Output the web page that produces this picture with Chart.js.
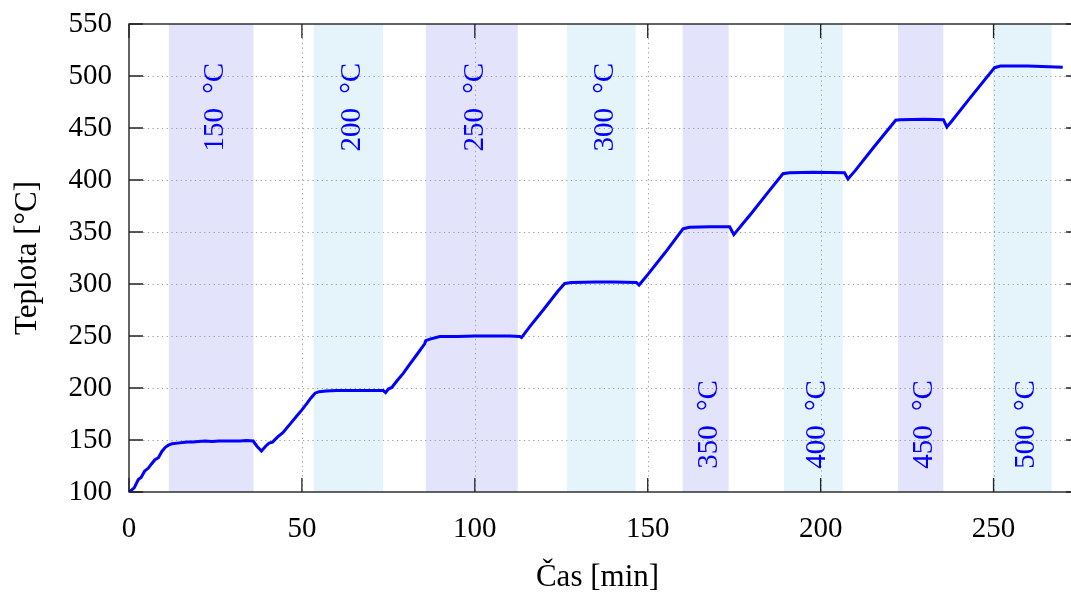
<!DOCTYPE html>
<html><head><meta charset="utf-8">
<script src="https://cdn.jsdelivr.net/npm/chart.js@4"></script>
<style>html,body{margin:0;padding:0;overflow:hidden;background:#fff}</style>
</head><body>
<canvas id="c" width="1085" height="598" style="display:block;width:1085px;height:598px"></canvas>
<script>
// ---- data ----
const timeMin = [0,0.8,1.5,2.7,3.5,4.5,5.6,6.5,7.5,8.5,9.5,10.5,11.4,12.5,14,15.5,17,18.5,20,22,24,26,28,30,32,34,35.9,37,38.3,39.5,40.5,41.5,43,44.5,46.5,48.5,50,51.4,52.5,53.8,55,57,60,63,66,70,73.5,74.2,75,76,77.5,79.3,81,83,85.5,85.8,87,89.9,95,100,105,110,113,113.5,115.9,120,124,126,128,135,140,146.7,147.5,150,155,160.2,162,168,173.7,174.9,177,180,185,189.1,191,198,206.9,207.9,210,215,221.7,223,230,235.5,236.5,238,243,250.3,252,260,270];
const temperature = [100,102,104,112,114,120,123,127,131,133,139,143,145,146.5,147,147.5,148,148,148.5,149,148.5,149,149,149,149,149.5,149,144,139.5,144,147,148,153,157,165,173,179,185,190,195,196.5,197,197.5,197.5,197.5,197.5,197.5,195.5,199,200.5,207,214,222,231,242.5,245.5,247,249.5,249.5,250,250,250,249.5,248.5,259,276,293,300.5,301.5,302,302,301.5,299,309,330,353,354.5,355,355,347.5,356,368,389,406,407,407.5,407,401,409,430,457.5,458,458.5,458,451,457,478,508,509.5,509.5,508.5];
const bandStart = [11.5, 53.4, 85.8, 126.6, 160.1, 189.4, 222.4, 249.8];
const bandEnd   = [36.0, 73.5, 112.4, 146.5, 173.4, 206.4, 235.5, 266.8];
const bandLabels = ['150 °C','200 °C','250 °C','300 °C','350 °C','400 °C','450 °C','500 °C'];
const xTicks = [0, 50, 100, 150, 200, 250];
const yTicks = [100, 150, 200, 250, 300, 350, 400, 450, 500, 550];
const xTitle = 'Čas [min]';
const yTitle = 'Teplota [°C]';

const FONT = "'Liberation Serif', 'Times New Roman', serif";

const decorPlugin = {
  id: 'decor',
  beforeDatasetsDraw(chart) {
    const {ctx, chartArea: a, scales: {x, y}} = chart;
    ctx.save();
    bandStart.forEach((s, i) => {
      const x0 = x.getPixelForValue(s), x1 = x.getPixelForValue(bandEnd[i]);
      ctx.fillStyle = i % 2 === 0 ? '#e3e3fc' : '#e5f3fa';
      ctx.fillRect(x0, a.top, x1 - x0, a.bottom - a.top);
    });
    ctx.strokeStyle = '#a0a0a0';
    ctx.lineWidth = 1;
    ctx.setLineDash([1.3, 3.4]);
    xTicks.forEach(v => {
      if (v === x.min || v === x.max) return;
      const px = Math.round(x.getPixelForValue(v)) + 0.5;
      ctx.beginPath(); ctx.moveTo(px, a.top); ctx.lineTo(px, a.bottom); ctx.stroke();
    });
    yTicks.forEach(v => {
      if (v === y.min || v === y.max) return;
      const py = Math.round(y.getPixelForValue(v)) + 0.5;
      ctx.beginPath(); ctx.moveTo(a.left, py); ctx.lineTo(a.right, py); ctx.stroke();
    });
    ctx.restore();
  },
  afterDatasetsDraw(chart) {
    const {ctx, chartArea: a, scales: {x, y}} = chart;
    ctx.save();
    ctx.strokeStyle = '#222';
    ctx.lineWidth = 1.4;
    ctx.strokeRect(a.left, a.top, a.right - a.left, a.bottom - a.top);
    const tl = 14;
    ctx.lineWidth = 1.3;
    ctx.beginPath();
    xTicks.forEach(v => {
      const px = x.getPixelForValue(v);
      ctx.moveTo(px, a.bottom); ctx.lineTo(px, a.bottom - tl);
      ctx.moveTo(px, a.top); ctx.lineTo(px, a.top + tl);
    });
    yTicks.forEach(v => {
      const py = y.getPixelForValue(v);
      ctx.moveTo(a.left, py); ctx.lineTo(a.left + tl, py);
      ctx.moveTo(a.right, py); ctx.lineTo(a.right - tl, py);
    });
    ctx.stroke();
    // band labels
    ctx.fillStyle = '#0000ff';
    ctx.font = '29px ' + FONT;
    ctx.textAlign = 'center';
    ctx.textBaseline = 'middle';
    try { ctx.wordSpacing = '7px'; } catch (e) {}
    bandLabels.forEach((t, i) => {
      const cx = (x.getPixelForValue(bandStart[i]) + x.getPixelForValue(bandEnd[i])) / 2 + 4;
      const cy = y.getPixelForValue(i < 4 ? 470 : 165);
      ctx.save();
      ctx.translate(cx, cy);
      ctx.rotate(-Math.PI / 2);
      ctx.fillText(t, 0, 0);
      ctx.restore();
    });
    try { ctx.wordSpacing = '0px'; } catch (e) {}
    // x axis title
    ctx.fillStyle = '#000';
    ctx.font = '31px ' + FONT;
    ctx.textBaseline = 'middle';
    ctx.fillText(xTitle, (a.left + a.right) / 2 - 7, 578);
    ctx.restore();
  }
};

new Chart(document.getElementById('c'), {
  type: 'line',
  data: {
    datasets: [{
      data: timeMin.map((t, i) => ({x: t, y: temperature[i]})),
      borderColor: '#0000ff',
      borderWidth: 3,
      pointRadius: 0,
      tension: 0,
      fill: false
    }]
  },
  options: {
    responsive: false,
    animation: false,
    devicePixelRatio: 1,
    layout: {padding: {top: 24, right: 5, left: 0, bottom: 0}},
    plugins: {legend: {display: false}, tooltip: {enabled: false}},
    scales: {
      x: {
        type: 'linear', min: 0, max: 275,
        afterBuildTicks: s => { s.ticks = xTicks.map(v => ({value: v})); },
        afterFit: s => { s.height = 106; s.paddingLeft = 0; s.paddingRight = 0; },
        grid: {display: false, drawTicks: false},
        border: {display: false},
        ticks: {font: {family: FONT, size: 29}, color: '#000', padding: 20, maxRotation: 0},
        title: {display: false}
      },
      y: {
        type: 'linear', min: 100, max: 550,
        afterBuildTicks: s => { s.ticks = yTicks.map(v => ({value: v})); },
        afterFit: s => { s.width = 129; s.paddingTop = 0; s.paddingBottom = 0; },
        grid: {display: false, drawTicks: false},
        border: {display: false},
        ticks: {font: {family: FONT, size: 29}, color: '#000', padding: 17},
        title: {display: true, text: yTitle, font: {family: FONT, size: 31}, color: '#000', padding: {top: 9, bottom: 0}}
      }
    }
  },
  plugins: [decorPlugin]
});
</script>
</body></html>
